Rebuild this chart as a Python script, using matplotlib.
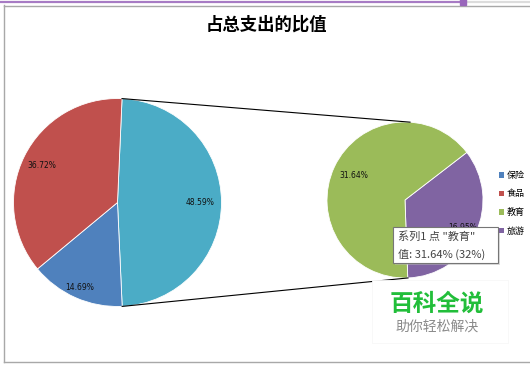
import numpy as np
import matplotlib
matplotlib.use('Agg')
import matplotlib.pyplot as plt
from matplotlib.patches import Rectangle

plt.rcParams['font.family'] = ['Noto Sans CJK SC', 'DejaVu Sans']

# data
categories = ['保险', '食品', '教育', '旅游']
shares = [14.69, 36.72, 31.64, 16.95]
colors = ['#4F81BD', '#C0504D', '#9BBB59', '#8064A2']
other_color = '#4BACC6'
title = '占总支出的比值'
tooltip_lines = ['系列1 点 "教育"', '值: 31.64% (32%)']
watermark = ['百科全说', '助你轻松解决']

W, H = 530, 367


def iy(y):
    # image row -> data y (y axis points up)
    return H - y


def pt(center, r, ang):
    a = np.deg2rad(ang)
    return center[0] + r * np.cos(a), center[1] + r * np.sin(a)


fig = plt.figure(figsize=(W / 100, H / 100), dpi=100)
ax = fig.add_axes([0, 0, 1, 1])

# main pie: the "other" slice (教育 + 旅游), 保险, 食品
main_c, main_r = (117.5, iy(202.5)), 104
main_vals = [shares[2] + shares[3], shares[0], shares[1]]
main_cols = [other_color, colors[0], colors[1]]
main_w, _ = ax.pie(main_vals, colors=main_cols, center=main_c, radius=main_r,
                   startangle=87.5, counterclock=False,
                   wedgeprops=dict(edgecolor='white', linewidth=0.6))

# secondary pie: 旅游, 教育
sub_c, sub_r = (405, iy(200)), 78
sub_vals = [shares[3], shares[2]]
sub_cols = [colors[3], colors[2]]
sub_w, _ = ax.pie(sub_vals, colors=sub_cols, center=sub_c, radius=sub_r,
                  startangle=37.6, counterclock=False,
                  wedgeprops=dict(edgecolor='white', linewidth=0.6))

# percentage labels
for wedges, vals, c, r, dists in [(main_w, main_vals, main_c, main_r, [0.79, 0.89, 0.81]),
                                  (sub_w, sub_vals, sub_c, sub_r, [0.82, 0.73])]:
    for w, v, d in zip(wedges, vals, dists):
        mid = (w.theta1 + w.theta2) / 2
        x, y = pt(c, r * d, mid)
        ax.text(x, y, f'{v:.2f}%', ha='center', va='center', fontsize=5.5,
                family='DejaVu Sans', color='#111111', zorder=3)

# connector lines between the pies
t_top, t_bot = main_w[0].theta2, main_w[0].theta1
for a_main, a_sub in [(t_top, 86.3), (t_bot, -87.8)]:
    x0, y0 = pt(main_c, main_r, a_main)
    x1, y1 = pt(sub_c, sub_r, a_sub)
    ax.plot([x0, x1], [y0, y1], color='black', lw=0.8, zorder=1)

# legend (保险, 食品, 教育, 旅游)
handles = [main_w[1], main_w[2], sub_w[1], sub_w[0]]
leg = ax.legend(handles, categories,
                loc='upper left', bbox_to_anchor=(499 / W, 1 - 171 / H),
                frameon=False, fontsize=6.5, handlelength=0.55, handleheight=0.55,
                handletextpad=0.35, labelspacing=1.05, borderpad=0, borderaxespad=0)
for h in leg.legend_handles:
    h.set_edgecolor('none')

# tooltip
ax.add_patch(Rectangle((395, iy(265)), 105, 36, facecolor='#bbbbbb', edgecolor='none',
                       alpha=0.5, zorder=5))
ax.add_patch(Rectangle((393, iy(263)), 105, 36, facecolor='white', edgecolor='#767676',
                       lw=0.8, zorder=6))
ax.text(398, iy(237), tooltip_lines[0], fontsize=8, color='#444444', va='center', zorder=7)
ax.text(398, iy(254), tooltip_lines[1], fontsize=8, color='#444444', va='center', zorder=7)

# watermark box
ax.add_patch(Rectangle((372, iy(343)), 136, 63, facecolor='white', edgecolor='#f7f7f7',
                       lw=0.6, zorder=4))
ax.text(437, iy(304), watermark[0], fontsize=17, fontweight='bold', color='#22BE3A',
        ha='center', va='center', zorder=5)
ax.text(437, iy(327), watermark[1], fontsize=10, color='#8a8a8a',
        ha='center', va='center', zorder=5)

# title
ax.text(266, iy(25), title, fontsize=12.5, fontweight='bold', ha='center', va='center')

# chart frame and selection bar
gray = '#a8a8a8'
ax.plot([3.5, 3.5], [iy(5), iy(362)], color=gray, lw=1)
ax.plot([3.5, W], [iy(5.5), iy(5.5)], color=gray, lw=1)
ax.plot([3.5, W], [iy(362), iy(362)], color=gray, lw=1)
ax.plot([0, 463], [iy(2), iy(2)], color='#A77BC4', lw=1.6)
ax.plot([463, W], [iy(2), iy(2)], color='#dcdcdc', lw=1.6)
ax.plot([463], [iy(2)], marker='s', ms=4, color='#9966BB')

ax.set_xlim(0, W)
ax.set_ylim(0, H)
ax.set_aspect('equal')
ax.axis('off')

fig.savefig('out.png', dpi=100)
